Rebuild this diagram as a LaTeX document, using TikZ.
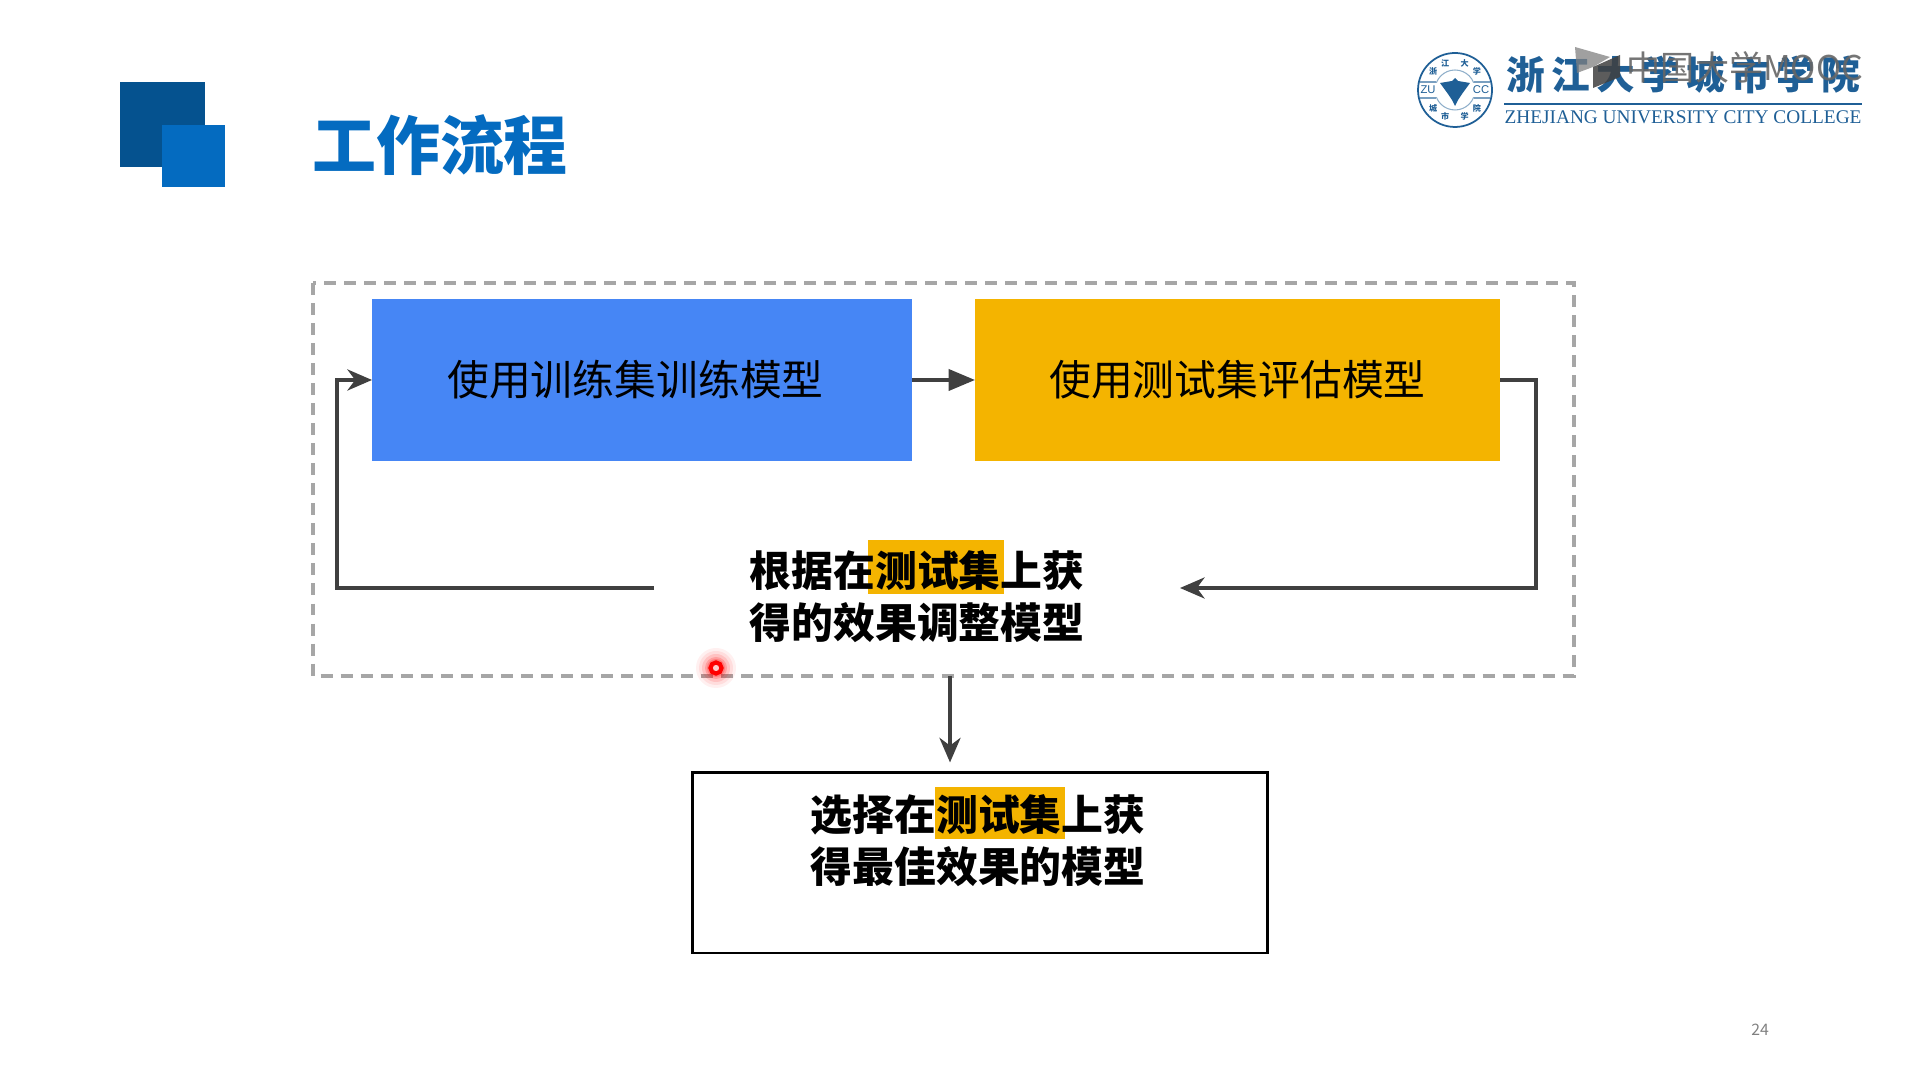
\documentclass[tikz,border=0pt]{standalone}
\usepackage{fontspec}
\setmainfont{Noto Sans CJK SC}
\newfontfamily\logoserif{Liberation Serif}
\newfontfamily\logosans{Liberation Sans}
\usetikzlibrary{arrows.meta,calc}

\definecolor{deepblue}{HTML}{05528F}
\definecolor{midblue}{HTML}{046BC0}
\definecolor{trainblue}{HTML}{4686F5}
\definecolor{testorange}{HTML}{F4B400}
\definecolor{linegray}{HTML}{404040}
\definecolor{logoblue}{HTML}{1F5F96}

\begin{document}
\begin{tikzpicture}
  [every node/.style={inner sep=0pt,outer sep=0pt,align=center,font=\fontsize{11.9}{14.8}\selectfont},
   stepbox/.style={minimum height=1.62cm},
   markbox/.style={fill=testorange},
   flow/.style={draw=linegray,line width=1pt,-{Stealth[length=7pt,width=6pt,inset=2.2pt]}},
   flowsolid/.style={draw=linegray,line width=1pt,-{Stealth[length=7.5pt,width=6pt,inset=0pt]}}]
  \useasboundingbox (0,0) rectangle (19.2,10.8);

  % header
  \fill [deepblue] (1.20,9.98) rectangle (2.05,9.13);
  \fill [midblue] (1.62,9.55) rectangle (2.25,8.93);
  \node (title) at (4.40,9.35) [text=midblue,font=\fontsize{18.2}{22}\selectfont\bfseries] {工作流程};

  % logo
  \draw [logoblue!50,line width=.3pt] (14.55,9.90) circle (.20);
  \fill [white] (14.18,9.83) rectangle (14.92,9.97);
  \draw [logoblue,line width=.5pt] (14.55,9.90) circle (.37);
  \draw [logoblue!60,line width=.3pt] (14.20,9.98) -- (14.36,9.98) (14.74,9.98) -- (14.90,9.98);
  \draw [logoblue!60,line width=.3pt] (14.20,9.82) -- (14.36,9.82) (14.74,9.82) -- (14.90,9.82);
  \node (zu) at (14.28,9.90) [text=logoblue,font=\fontsize{3.2}{4}\selectfont\logosans] {ZU};
  \node (cc) at (14.81,9.90) [text=logoblue,font=\fontsize{3.2}{4}\selectfont\logosans] {CC};
  \fill [logoblue] (14.40,9.97) -- (14.52,9.99) -- (14.55,10.02) -- (14.58,9.99) -- (14.70,9.97) -- (14.62,9.86) -- (14.58,9.80) -- (14.55,9.74) -- (14.52,9.80) -- (14.48,9.86) -- cycle;
  \foreach \ang/\ch [count=\i] in {140/浙,110/江,70/大,40/学,-40/院,-70/学,-110/市,-140/城}
    \node (seal\i) at ($(14.55,9.90)+(\ang:.285)$) [text=logoblue,font=\fontsize{2.3}{3}\selectfont\bfseries] {\ch};
  \foreach \ch [count=\i from 0] in {浙,江,大,学,城,市,学,院}
    \node (logo\i) at ({15.26+\i*.449},10.05) [text=logoblue,font=\fontsize{11}{13}\selectfont\bfseries] {\ch};
  \draw [logoblue,line width=.5pt] (15.04,9.76) -- (18.62,9.76);
  \node (college) at (16.83,9.63) [text=logoblue,font=\fontsize{5.5}{7}\selectfont\logoserif] {ZHEJIANG UNIVERSITY CITY COLLEGE};

  % watermark
  \fill [gray,opacity=.75] (15.75,10.33) -- (16.10,10.23) -- (15.93,10.13) -- (15.77,10.07) -- cycle;
  \fill [black!75,opacity=.85] (15.93,10.13) -- (16.20,10.25) -- (16.20,10.03) -- (15.93,9.92) -- cycle;
  \node (mooc) at (17.45,10.13) [text=black!60,opacity=.9,font=\fontsize{9.7}{11}\selectfont] {中国大学MOOC};

  % flow
  \draw [gray!70,dash pattern=on 3.4pt off 2.3pt,line width=1pt] (3.13,7.97) rectangle (15.74,4.04);
  \node [stepbox,minimum width=5.40cm,fill=trainblue] (train) at (6.42,7.00) {使用训练集训练模型\hspace{.13cm}};
  \node [stepbox,minimum width=5.25cm,fill=testorange] (test) at (12.375,7.00) {使用测试集评估模型};

  \node [markbox,minimum width=1.36cm,minimum height=.54cm] (markone) at (9.36,5.13) {};
  \node [minimum width=5.26cm] (adjust) at (9.17,4.83) {\bfseries 根据在测试集上获\\ \bfseries 得的效果调整模型};

  \node [draw=black,line width=.85pt,minimum width=5.75cm,minimum height=1.80cm] (finalbox) at (9.795,2.17) {};
  \node [markbox,minimum width=1.30cm,minimum height=.52cm] (marktwo) at (10.00,2.67) {};
  \node (finaltext) at (9.78,2.39) {\bfseries 选择在测试集上获\\ \bfseries 得最佳效果的模型};

  \coordinate (turnleft) at (3.37,4.92);
  \coordinate (turnright) at (15.36,4.92);
  \coordinate (leave) at (9.50,4.04);

  \foreach \from/\to in {train/test}
    \draw [flowsolid] (\from) -- (\to);
  \draw [flow] (test.east) -- (turnright |- test.east) -- (turnright) -- (turnright -| adjust.east);
  \draw [flow] (turnleft -| adjust.west) -- (turnleft) -- (turnleft |- train.west) -- (train.west);
  \draw [flow,shorten >=3pt] (leave) -- (leave |- finalbox.north);

  % pointer
  \foreach \r/\o in {.20/.06,.17/.08,.14/.12,.11/.18,.09/.22}
    \fill [red,opacity=\o] (7.16,4.12) circle (\r);
  \draw [red,line width=1.2pt,fill=white!80!red] (7.16,4.12) circle (.055);

  \node (pagenum) at (17.60,.50) [text=gray,font=\fontsize{4.5}{5}\selectfont] {24};
\end{tikzpicture}
\end{document}
